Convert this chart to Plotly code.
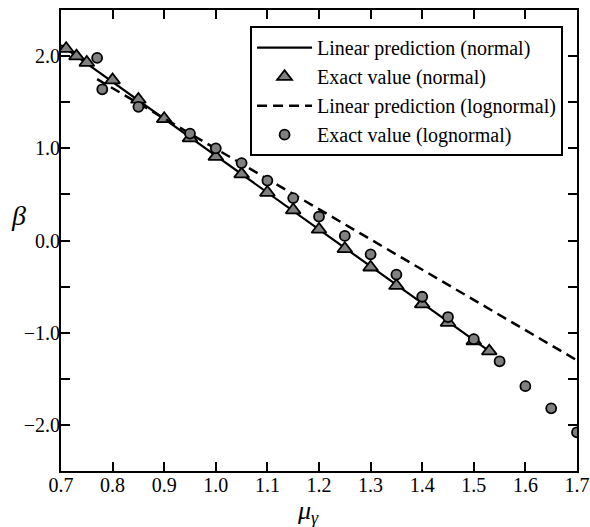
import plotly.graph_objects as go

# exact values
normal_x = [0.71, 0.73, 0.75, 0.80, 0.85, 0.90, 0.95, 1.00, 1.05, 1.10,
            1.15, 1.20, 1.25, 1.30, 1.35, 1.40, 1.45, 1.50, 1.53]
normal_y = [2.08, 2.00, 1.93, 1.74, 1.53, 1.32, 1.11, 0.91, 0.72, 0.52,
            0.33, 0.12, -0.09, -0.29, -0.49, -0.69, -0.89, -1.09, -1.20]

lognormal_x = [0.77, 0.78, 0.85, 0.95, 1.00, 1.05, 1.10, 1.15, 1.20, 1.25,
               1.30, 1.35, 1.40, 1.45, 1.50, 1.55, 1.60, 1.65, 1.70]
lognormal_y = [1.98, 1.64, 1.45, 1.16, 1.00, 0.84, 0.65, 0.46, 0.26, 0.05,
               -0.15, -0.37, -0.61, -0.83, -1.07, -1.31, -1.58, -1.82, -2.08]

# linear predictions (end points)
lin_normal_x = [0.70, 1.53]
lin_normal_y = [2.12, -1.20]
lin_lognormal_x = [0.77, 1.70]
lin_lognormal_y = [1.75, -1.30]

x_ticks = [0.7, 0.8, 0.9, 1.0, 1.1, 1.2, 1.3, 1.4, 1.5, 1.6, 1.7]
x_labels = ["0.7", "0.8", "0.9", "1.0", "1.1", "1.2", "1.3", "1.4", "1.5", "1.6", "1.7"]
y_ticks = [2.0, 1.0, 0.0, -1.0, -2.0]
y_labels = ["2.0", "1.0", "0.0", "\u22121.0", "\u22122.0"]
y_minor = [1.5, 0.5, -0.5, -1.5]

serif = "Liberation Serif, Times New Roman, serif"
gray = "#808080"

fig = go.Figure()
fig.add_trace(go.Scatter(x=lin_normal_x, y=lin_normal_y, mode="lines",
                         name="Linear prediction (normal)",
                         line=dict(color="black", width=2.2)))
fig.add_trace(go.Scatter(x=normal_x, y=normal_y, mode="markers",
                         name="Exact value (normal)",
                         marker=dict(symbol="triangle-up", size=13, color=gray,
                                     line=dict(color="black", width=1.8))))
fig.add_trace(go.Scatter(x=lin_lognormal_x, y=lin_lognormal_y, mode="lines",
                         name="Linear prediction (lognormal)",
                         line=dict(color="black", width=2.5, dash="10px,6px")))
fig.add_trace(go.Scatter(x=lognormal_x, y=lognormal_y, mode="markers",
                         name="Exact value (lognormal)",
                         marker=dict(symbol="circle", size=10, color=gray,
                                     line=dict(color="black", width=1.8))))

axis_common = dict(showline=True, linecolor="black", linewidth=2, mirror="allticks",
                   ticks="inside", ticklen=9, tickwidth=2, tickcolor="black",
                   showgrid=False, zeroline=False, automargin=False,
                   ticklabelstandoff=-5,
                   tickfont=dict(family=serif, size=20, color="black"))

fig.update_xaxes(range=[0.7, 1.7], tickvals=x_ticks, ticktext=x_labels, **axis_common)
fig.update_yaxes(range=[-2.5, 2.5], tickvals=y_ticks, ticktext=y_labels,
                 minor=dict(tickvals=y_minor, ticks="inside", ticklen=9,
                            tickwidth=2, tickcolor="black"),
                 **axis_common)

# axis titles as annotations (beta is upright in the reference)
fig.add_annotation(text="<i>β</i>", xref="paper", yref="paper", x=-0.083, y=0.555,
                   xanchor="center", yanchor="middle", showarrow=False,
                   font=dict(family=serif, size=28, color="black"))
fig.add_annotation(text="<i>μ<sub>γ</sub></i>", xref="paper", yref="paper",
                   x=0.479, y=-0.089, xanchor="center", yanchor="middle",
                   showarrow=False, font=dict(family=serif, size=26, color="black"))

fig.update_layout(
    width=590, height=527,
    margin=dict(l=61, r=13, t=10, b=56),
    plot_bgcolor="white", paper_bgcolor="white",
    font=dict(family=serif, color="black"),
    legend=dict(x=0.973, y=0.965, xanchor="right", yanchor="top",
                bgcolor="white", bordercolor="black", borderwidth=2,
                font=dict(family=serif, size=20, color="black"),
                tracegroupgap=0, itemwidth=55),
)

fig.write_html("out.html", config={"displayModeBar": False},
               post_script="document.body.style.margin='0px';")
